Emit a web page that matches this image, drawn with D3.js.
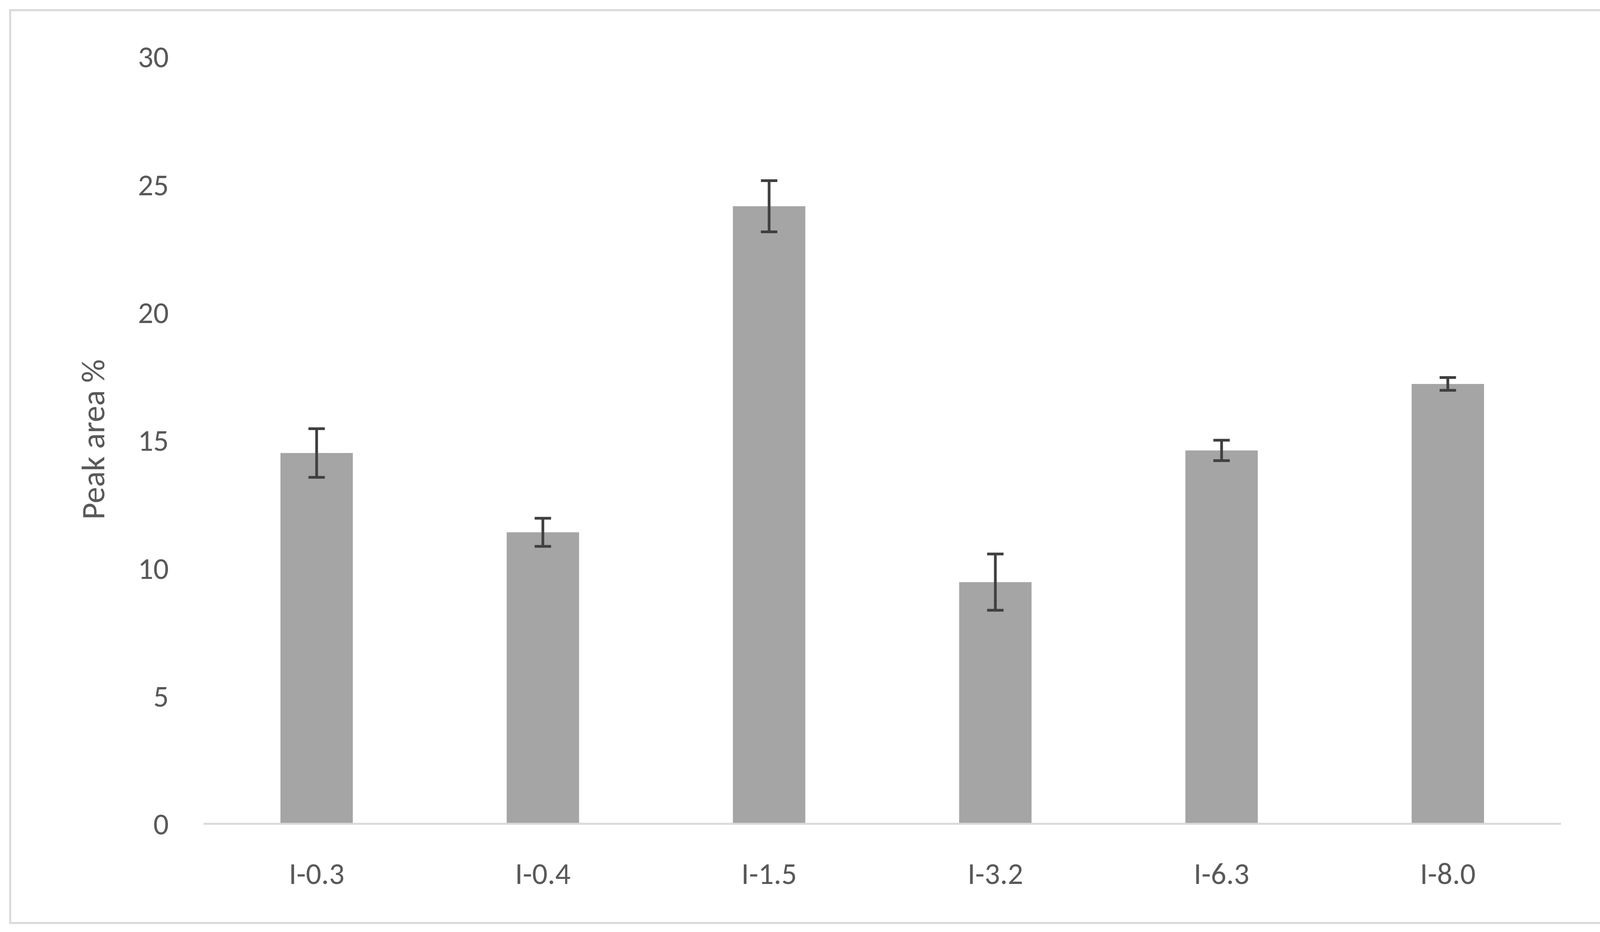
<!DOCTYPE html>
<html><head><meta charset="utf-8">
<script src="https://cdn.jsdelivr.net/npm/d3@7"></script>
<style>body{margin:0;background:#fff}</style>
</head><body>
<script>
const categories = ["I-0.3", "I-0.4", "I-1.5", "I-3.2", "I-6.3", "I-8.0"];
const values = [14.5, 11.4, 24.15, 9.45, 14.6, 17.2];
const errors = [0.95, 0.55, 1.0, 1.1, 0.4, 0.25];
const yTicks = [0, 5, 10, 15, 20, 25, 30];

const W = 4149, H = 2386;
const svg = d3.select("body").append("svg").attr("width", W).attr("height", H);
const font = "Calibri, Carlito, 'Open Sans', sans-serif";

// outer frame
svg.append("rect").attr("x", 26).attr("y", 26).attr("width", 4088).attr("height", 2337)
  .attr("fill", "#fff").attr("stroke", "#d9d9d9").attr("stroke-width", 5);

const x = d3.scaleBand().domain(categories).range([521, 3996]).paddingInner(0.68).paddingOuter(0.34);
const y = d3.scaleLinear().domain([0, 30]).range([2109, 145]);

svg.selectAll(".bar").data(values).join("rect")
  .attr("x", (d, i) => x(categories[i]))
  .attr("y", d => y(d))
  .attr("width", x.bandwidth())
  .attr("height", d => y(0) - y(d))
  .attr("fill", "#a5a5a5");

// baseline
svg.append("line").attr("x1", 521).attr("x2", 3996).attr("y1", y(0)).attr("y2", y(0))
  .attr("stroke", "#d9d9d9").attr("stroke-width", 5);

// error bars
const eb = svg.selectAll(".err").data(values).join("g")
  .attr("transform", (d, i) => `translate(${x(categories[i]) + x.bandwidth() / 2},0)`);
eb.append("line").attr("y1", (d, i) => y(d + errors[i])).attr("y2", (d, i) => y(d - errors[i]))
  .attr("stroke", "#404040").attr("stroke-width", 7);
[1, -1].forEach(s => {
  eb.append("line").attr("x1", -21).attr("x2", 21)
    .attr("y1", (d, i) => y(d + s * errors[i])).attr("y2", (d, i) => y(d + s * errors[i]))
    .attr("stroke", "#404040").attr("stroke-width", 7);
});

// y tick labels
svg.selectAll(".yt").data(yTicks).join("text")
  .attr("x", 432).attr("y", d => y(d)).attr("dy", "0.35em")
  .attr("text-anchor", "end").attr("font-family", font).attr("font-size", 78)
  .attr("fill", "#595959").text(d => d);

// x tick labels
svg.selectAll(".xt").data(categories).join("text")
  .attr("x", d => x(d) + x.bandwidth() / 2).attr("y", 2236).attr("dy", "0.35em")
  .attr("text-anchor", "middle").attr("font-family", font).attr("font-size", 78)
  .attr("fill", "#595959").text(d => d);

// y axis title
svg.append("text").attr("transform", "translate(238,1125) rotate(-90)")
  .attr("dy", "0.35em").attr("text-anchor", "middle")
  .attr("font-family", font).attr("font-size", 84).attr("fill", "#595959")
  .text("Peak area %");
</script>
</body></html>
